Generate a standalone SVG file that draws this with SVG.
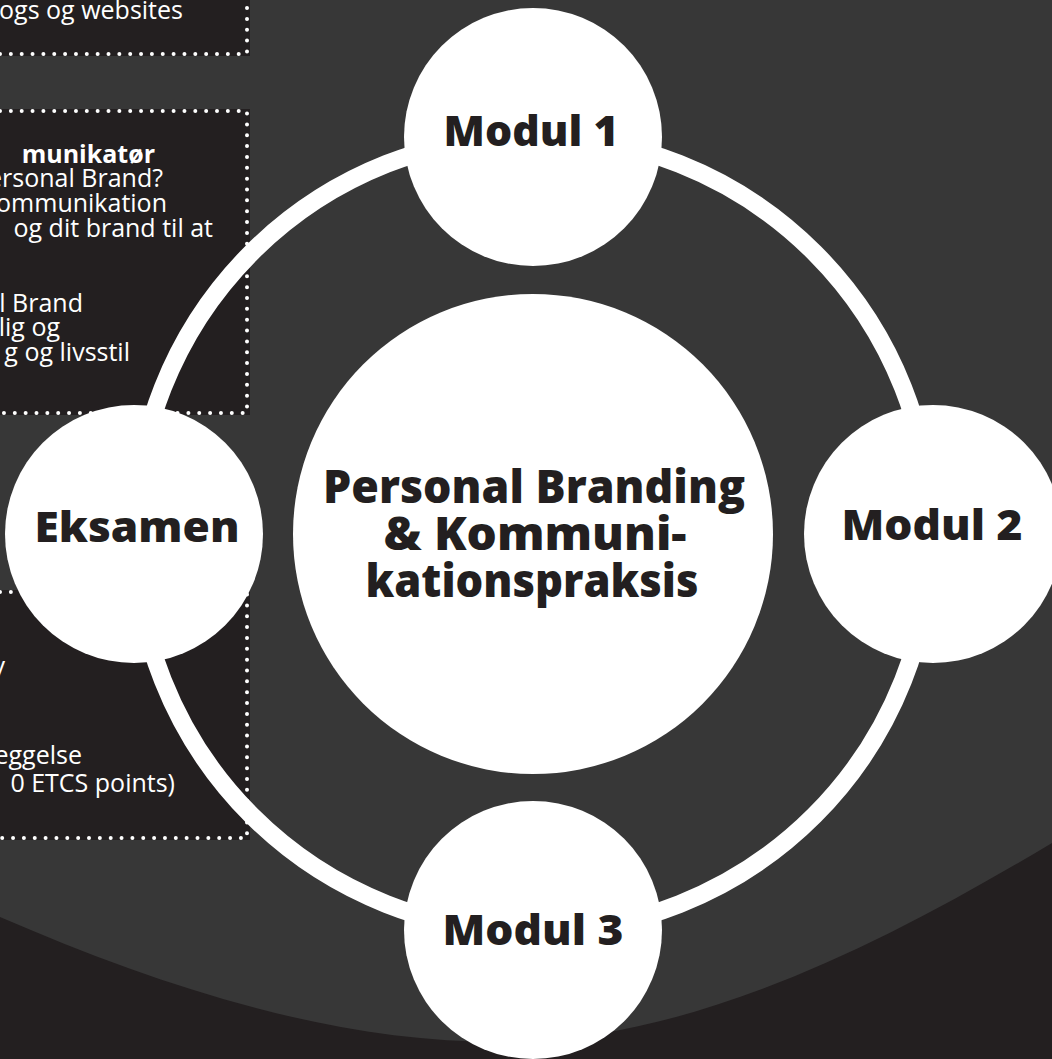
<svg xmlns="http://www.w3.org/2000/svg" width="1052" height="1059" viewBox="0 0 1052 1059">
  <style>
    .box { fill: #231F20; }
    .dots { fill: none; stroke: #FFFFFF; stroke-width: 4; stroke-linecap: round; stroke-dasharray: 0 10.85; }
    .btxt { font-family: "Open Sans", "Noto Sans", "Liberation Sans", sans-serif; font-size: 25px; fill: #FFFFFF; text-anchor: end; font-variant-ligatures: none; }
    .bold { font-weight: 700; }
    .node { fill: #FFFFFF; }
    .ntxt { font-family: "Open Sans", "Liberation Sans", sans-serif; font-weight: 800; font-size: 43px; fill: #231F20; text-anchor: middle; }
    .ctxt { font-family: "Open Sans", "Liberation Sans", sans-serif; font-weight: 800; font-size: 46px; fill: #231F20; text-anchor: middle; }
    .ring { fill: none; stroke: #FFFFFF; stroke-width: 18; }
  </style>
  <rect x="0" y="0" width="1052" height="1059" fill="#373737"/>
  <path d="M0 917 C167 989 333 1042 500 1042 C684 1042 868 953 1052 843 L1052 1059 L0 1059 Z" fill="#231F20"/>

  <g id="box-top">
    <rect class="box" x="-10" y="-10" width="260" height="66"/>
    <path class="dots" d="M0 54 H247 V0"/>
    <text class="btxt" x="183" y="19">ogs og websites</text>
  </g>

  <g id="box-middle">
    <rect class="box" x="-10" y="109" width="260" height="306"/>
    <path class="dots" d="M0 111 H247 V413 H0"/>
    <text class="btxt"><tspan class="bold" x="155" y="163">munikatør</tspan><tspan x="163" y="187">ersonal Brand?</tspan><tspan x="167" y="212">ommunikation</tspan><tspan x="213" y="237">og dit brand til at</tspan><tspan x="83" y="312">l Brand</tspan><tspan x="60" y="336">lig og</tspan><tspan x="130" y="361">g og livsstil</tspan></text>
  </g>

  <g id="box-bottom">
    <rect class="box" x="-10" y="590" width="260" height="250"/>
    <path class="dots" d="M0 592 H247 V838 H0"/>
    <text class="btxt"><tspan x="5" y="675">y</tspan><tspan x="82" y="764">eggelse</tspan><tspan x="175" y="792">0 ETCS points)</tspan></text>
  </g>

  <g id="connectors">
    <path class="ring" d="M533 136 A398 398 0 0 1 931 534"/>
    <path class="ring" d="M931 534 A398 398 0 0 1 533 932"/>
    <path class="ring" d="M533 932 A398 398 0 0 1 135 534"/>
    <path class="ring" d="M135 534 A398 398 0 0 1 533 136"/>
  </g>

  <g id="center">
    <circle class="node" cx="533" cy="534" r="240"/>
    <text class="ctxt"><tspan x="534" y="503" textLength="422" lengthAdjust="spacingAndGlyphs">Personal Branding</tspan><tspan x="535" y="550" textLength="303" lengthAdjust="spacingAndGlyphs">&amp; Kommuni-</tspan><tspan x="532" y="597" textLength="333" lengthAdjust="spacingAndGlyphs">kationspraksis</tspan></text>
  </g>

  <g id="modul1">
    <circle class="node" cx="533" cy="137" r="129"/>
    <text class="ntxt" x="531" y="146" textLength="175" lengthAdjust="spacingAndGlyphs">Modul 1</text>
  </g>

  <g id="modul2">
    <circle class="node" cx="933" cy="534" r="129"/>
    <text class="ntxt" x="932" y="540" textLength="181" lengthAdjust="spacingAndGlyphs">Modul 2</text>
  </g>

  <g id="modul3">
    <circle class="node" cx="533" cy="930" r="129"/>
    <text class="ntxt" x="533" y="945" textLength="181" lengthAdjust="spacingAndGlyphs">Modul 3</text>
  </g>

  <g id="eksamen">
    <circle class="node" cx="134" cy="534" r="129"/>
    <text class="ntxt" x="137" y="542" textLength="205" lengthAdjust="spacingAndGlyphs">Eksamen</text>
  </g>
</svg>
